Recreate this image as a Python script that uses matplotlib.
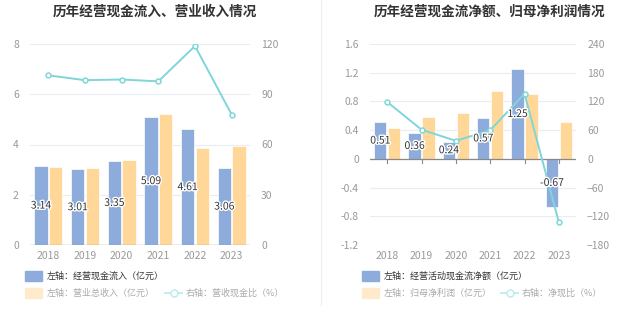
import matplotlib
matplotlib.use("Agg")
import matplotlib.pyplot as plt
import matplotlib.patheffects as pe
from matplotlib.lines import Line2D
import numpy as np

plt.rcParams['font.family'] = ['Noto Sans CJK SC', 'DejaVu Sans']

years = ['2018', '2019', '2020', '2021', '2022', '2023']

# left chart
cash_inflow = [3.14, 3.01, 3.35, 5.09, 4.61, 3.06]
revenue = [3.10, 3.06, 3.39, 5.21, 3.88, 3.93]
inflow_ratio = [101.3, 98.4, 98.8, 97.7, 118.8, 77.9]

# right chart
net_cash = [0.51, 0.36, 0.24, 0.57, 1.25, -0.67]
net_profit = [0.43, 0.59, 0.64, 0.95, 0.91, 0.51]
net_ratio = [119.0, 61.0, 37.7, 59.8, 136.0, -132.0]

BLUE = '#8eacdb'
ORANGE = '#ffd899'
TEAL = '#7fd6d9'
TICK = '#999999'
GRID = '#e8ecf5'

W, H = 637, 327
fig = plt.figure(figsize=(W / 100, H / 100), dpi=100)


def px_axes(x0, x1, ytop, ybot):
    return fig.add_axes([x0 / W, (H - ybot) / H, (x1 - x0) / W, (ybot - ytop) / H])


def draw_panel(ax, bars1, bars2, ratio, ylim, yticks, rlim, rticks, yfmt):
    x = np.arange(len(years))
    w = 0.36
    ax.bar(x - 0.2, bars1, w, color=BLUE, edgecolor='white', linewidth=0.5, zorder=3)
    ax.bar(x + 0.2, bars2, w, color=ORANGE, edgecolor='white', linewidth=0.5, zorder=3)
    ax.set_xlim(-0.5, len(years) - 0.5)
    ax.set_ylim(*ylim)
    ax.set_yticks(yticks)
    ax.set_yticklabels([yfmt(t) for t in yticks])
    ax.set_xticks(x)
    ax.set_xticklabels(years)
    ax.grid(axis='y', color=GRID, linewidth=0.8, zorder=0)
    for s in ax.spines.values():
        s.set_visible(False)
    ax.axhline(0, color='#888888', linewidth=0.9, zorder=4)
    ax.tick_params(axis='y', length=0, labelsize=7.5, labelcolor=TICK, pad=8)
    ax.tick_params(axis='x', length=0, labelsize=7.5, labelcolor=TICK, pad=4)
    # small tick marks at category centres on the zero line
    tick_len = (ylim[1] - ylim[0]) * 0.022
    for xi in x:
        ax.plot([xi, xi], [0, -tick_len], color='#888888', linewidth=0.8, zorder=4)

    ax2 = ax.twinx()
    ax2.plot(x, ratio, color=TEAL, linewidth=1.4, marker='o', markersize=3.5,
             markerfacecolor='white', markeredgecolor=TEAL, markeredgewidth=1.1, zorder=5)
    ax2.set_ylim(*rlim)
    ax2.set_yticks(rticks)
    for s in ax2.spines.values():
        s.set_visible(False)
    ax2.tick_params(axis='y', length=0, labelsize=7.5, labelcolor=TICK, pad=8)
    # value labels sit above the line
    for xi, v in zip(x, bars1):
        ax2.text(xi - 0.2, v / 2, f'{v:.2f}', ha='center', va='center', fontsize=7.5,
                 color='#333333', zorder=6, transform=ax.transData,
                 path_effects=[pe.withStroke(linewidth=2, foreground='white')])
    return ax2


axL = px_axes(30, 250, 44, 245)
draw_panel(axL, cash_inflow, revenue, inflow_ratio, (0, 8), [0, 2, 4, 6, 8],
           (0, 120), [0, 30, 60, 90, 120], lambda t: f'{t:g}')

axR = px_axes(370, 576, 44, 245)
draw_panel(axR, net_cash, net_profit, net_ratio, (-1.2, 1.6),
           [-1.2, -0.8, -0.4, 0, 0.4, 0.8, 1.2, 1.6],
           (-180, 240), [-180, -120, -60, 0, 60, 120, 180, 240],
           lambda t: '0' if abs(t) < 1e-9 else f'{t:.1f}')

# titles
fig.text(155 / W, 1 - 12 / H, '历年经营现金流入、营业收入情况', ha='center', va='center',
         fontsize=9.8, fontweight='bold', color='#333333')
fig.text(490 / W, 1 - 12 / H, '历年经营现金流净额、归母净利润情况', ha='center', va='center',
         fontsize=9.8, fontweight='bold', color='#333333')

# separator
fig.add_artist(Line2D([320.5 / W, 320.5 / W], [1, 1 - 305 / H], color='#eeeeee', linewidth=0.8))


def legend_rows(x_patch, row1, row2a, row2b, x_line):
    y1 = 1 - 276 / H
    y2 = 1 - 293 / H
    pw, ph = 17 / W, 10 / H
    fig.patches.append(plt.Rectangle((x_patch / W, y1 - ph / 2), pw, ph, color=BLUE,
                                     transform=fig.transFigure, figure=fig))
    fig.text((x_patch + 22) / W, y1, row1, ha='left', va='center', fontsize=6.5, color='#333333')
    fig.patches.append(plt.Rectangle((x_patch / W, y2 - ph / 2), pw, ph, color='#ffebcc',
                                     transform=fig.transFigure, figure=fig))
    fig.text((x_patch + 22) / W, y2, row2a, ha='left', va='center', fontsize=6.5, color='#aaaaaa')
    fig.add_artist(Line2D([x_line / W, (x_line + 17) / W], [y2, y2], color='#c5ecee', linewidth=1.4))
    fig.add_artist(Line2D([(x_line + 8.5) / W], [y2], marker='o', markersize=5,
                          markerfacecolor='white', markeredgecolor='#c5ecee', markeredgewidth=1.2))
    fig.text((x_line + 21) / W, y2, row2b, ha='left', va='center', fontsize=6.5, color='#aaaaaa')


legend_rows(25, '左轴：经营现金流入（亿元）', '左轴：营业总收入（亿元）', '右轴：营收现金比（%）', 165)
legend_rows(362, '左轴：经营活动现金流净额（亿元）', '左轴：归母净利润（亿元）', '右轴：净现比（%）', 501)

fig.savefig('out.png', dpi=100, facecolor='white')
